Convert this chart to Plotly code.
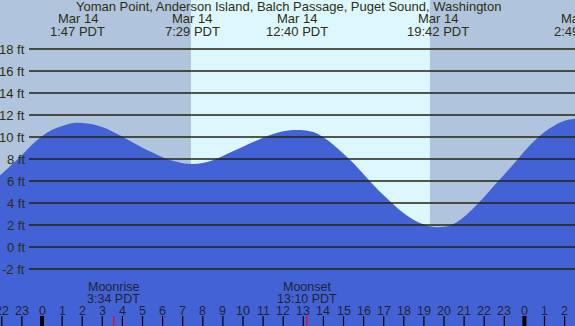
import plotly.graph_objects as go

# Tide heights (ft) vs hours since midnight Mar 14 (PDT), read every half hour
hours = [-2.5, -2.0, -1.5, -1.0, -0.5, 0.0, 0.5, 1.0, 1.5, 2.0, 2.5, 3.0, 3.5, 4.0, 4.5, 5.0,
         5.5, 6.0, 6.5, 7.0, 7.5, 8.0, 8.5, 9.0, 9.5, 10.0, 10.5, 11.0, 11.5, 12.0, 12.5,
         13.0, 13.5, 14.0, 14.5, 15.0, 15.5, 16.0, 16.5, 17.0, 17.5, 18.0, 18.5, 19.0, 19.5,
         20.0, 20.5, 21.0, 21.5, 22.0, 22.5, 23.0, 23.5, 24.0, 24.5, 25.0, 25.5, 26.0, 26.5, 27.0]
heights = [5.8, 6.65, 7.5, 8.35, 9.3, 10.06, 10.65, 11.0, 11.25, 11.28, 11.15, 10.9, 10.5, 10.02, 9.52, 9.03,
           8.58, 8.16, 7.83, 7.62, 7.55, 7.64, 7.88, 8.28, 8.7, 9.12, 9.54, 9.93, 10.28, 10.52, 10.63,
           10.62, 10.45, 9.97, 9.3, 8.48, 7.62, 6.62, 5.62, 4.7, 3.85, 3.06, 2.45, 2.04, 1.82,
           1.83, 2.12, 2.75, 3.6, 4.55, 5.6, 6.6, 7.62, 8.7, 9.65, 10.45, 11.05, 11.47, 11.65, 11.75]

grid_ft = list(range(-2, 20, 2))
extreme_hours = [1.78, 7.48, 12.67, 19.70, 26.82]
extreme_dates = ["Mar 14", "Mar 14", "Mar 14", "Mar 14", "Mar 15"]
extreme_times = ["1:47 PDT", "7:29 PDT", "12:40 PDT", "19:42 PDT", "2:49 PDT"]
daylight = [7.41, 19.30]
moon_names = ["Moonrise", "Moonset"]
moon_hours = [3.57, 13.17]
moon_times = ["3:34 PDT", "13:10 PDT"]
tick_hours = list(range(-2, 27))
title = "Yoman Point, Anderson Island, Balch Passage, Puget Sound, Washington"

W, H = 575, 326
X_RANGE = [-42 / 20.1, 533 / 20.1]
Y_RANGE = [-79 / 11, 247 / 11]

NIGHT = "#B0C4DE"
DAY = "#DDF7FF"
TIDE = "#4262D6"
TEXT = "#2e2e10"
GRID = "#24240e"
FONT = "Liberation Sans, Arial, sans-serif"


def py(p):
    return 1 - p / H


def px(h):
    # position of an hour value on the x axis, in paper units
    return (h - X_RANGE[0]) / (X_RANGE[1] - X_RANGE[0])


fig = go.Figure()
fig.add_trace(go.Scatter(x=[hours[0], hours[-1]], y=[Y_RANGE[0] - 1, Y_RANGE[0] - 1],
                         mode="lines", line=dict(width=0), hoverinfo="skip", showlegend=False))
fig.add_trace(go.Scatter(x=hours, y=heights, mode="lines", line=dict(width=0, shape="spline", color=TIDE),
                         fill="tonexty", fillcolor=TIDE, showlegend=False))

shapes = [dict(type="rect", xref="x", yref="paper", x0=daylight[0], x1=daylight[1], y0=0, y1=1,
               fillcolor=DAY, line=dict(width=0), layer="below")]
annotations = []

for g in grid_ft:
    shapes.append(dict(type="line", xref="paper", yref="y", x0=29 / W, x1=1, y0=g, y1=g,
                       line=dict(color=GRID, width=1.3), layer="above"))
    annotations.append(dict(xref="paper", yref="y", x=27 / W, y=g, text=f"{g} ft", showarrow=False,
                            xanchor="right", yanchor="middle", font=dict(size=13, color=TEXT, family=FONT)))

annotations.append(dict(xref="paper", yref="paper", x=288 / W, y=py(7), text=title, showarrow=False,
                        xanchor="center", yanchor="middle", font=dict(size=13, color=TEXT, family=FONT)))

for hx, d, t in zip(extreme_hours, extreme_dates, extreme_times):
    annotations.append(dict(xref="paper", yref="paper", x=px(hx), y=py(18), text=d, showarrow=False,
                            xanchor="center", yanchor="middle", font=dict(size=13, color=TEXT, family=FONT)))
    annotations.append(dict(xref="paper", yref="paper", x=px(hx), y=py(31), text=t, showarrow=False,
                            xanchor="center", yanchor="middle", font=dict(size=13, color=TEXT, family=FONT)))

for n, hx, t in zip(moon_names, moon_hours, moon_times):
    annotations.append(dict(xref="x", yref="paper", x=hx, y=py(287), text=n, showarrow=False,
                            xanchor="center", yanchor="middle", font=dict(size=12.5, color="#222230", family=FONT)))
    annotations.append(dict(xref="x", yref="paper", x=hx, y=py(298.5), text=t, showarrow=False,
                            xanchor="center", yanchor="middle", font=dict(size=12.5, color="#222230", family=FONT)))
    shapes.append(dict(type="line", xref="x", yref="paper", x0=hx, x1=hx, y0=0, y1=10 / H,
                       line=dict(color="red", width=1.2), layer="above"))

for th in tick_hours:
    annotations.append(dict(xref="paper", yref="paper", x=px(th), y=py(311), text=str(th % 24), showarrow=False,
                            xanchor="center", yanchor="middle", font=dict(size=12.5, color="#222230", family=FONT)))
    wide = (th % 24 == 0)
    shapes.append(dict(type="line", xref="x", yref="paper", x0=th, x1=th, y0=0, y1=10 / H,
                       line=dict(color="black", width=4 if wide else 1.2), layer="above"))

fig.update_layout(
    width=W, height=H, margin=dict(l=0, r=0, t=0, b=0),
    paper_bgcolor=NIGHT, plot_bgcolor=NIGHT,
    xaxis=dict(range=X_RANGE, visible=False, fixedrange=True),
    yaxis=dict(range=Y_RANGE, visible=False, fixedrange=True),
    shapes=shapes, annotations=annotations, showlegend=False,
)

fig.write_html("out.html", config={"displayModeBar": False},
               post_script="document.body.style.margin='0';document.body.style.overflow='hidden';")
